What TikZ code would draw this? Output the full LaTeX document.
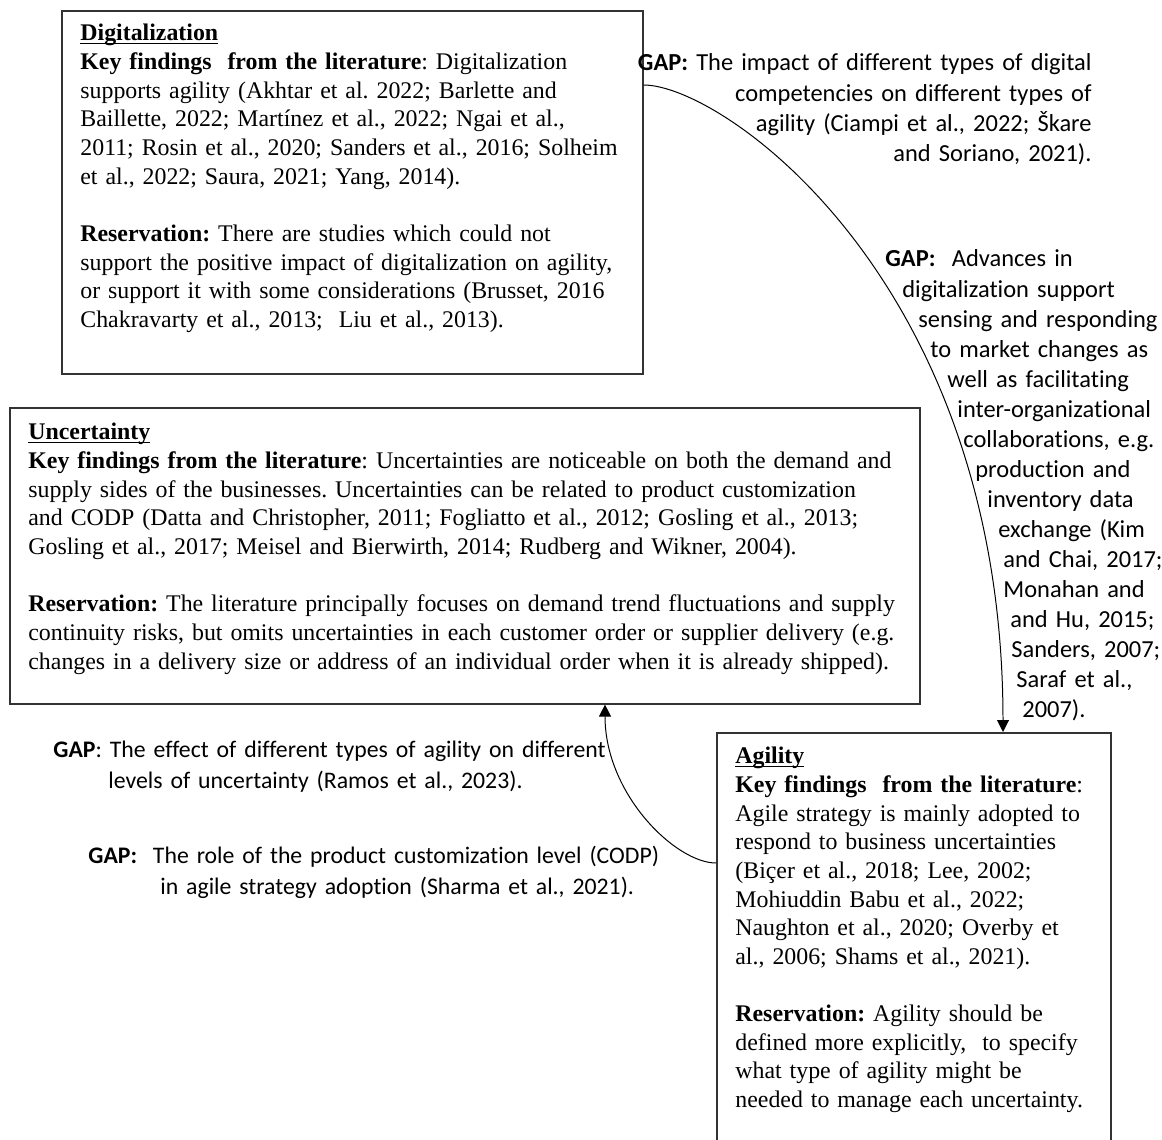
\documentclass[tikz,border=0pt]{standalone}
\usepackage{fontspec}
\setmainfont{Liberation Serif}
\newfontfamily\gapfont[Ligatures=NoCommon]{Carlito}
\usetikzlibrary{calc, arrows.meta, positioning}
\newlength\px
\setlength\px{0.503pt}
\newsavebox\headbox
\newcommand\boxhead[1]{\sbox\headbox{\textbf{#1}}\rlap{\rule[-1.6pt]{\wd\headbox}{0.6pt}}\usebox\headbox}
\frenchspacing

\begin{document}
\begin{tikzpicture}[x=0.503pt, y=-0.503pt,
	box/.style={draw=black!80, line width=0.8pt, inner sep=0pt, anchor=north west},
	boxtext/.style={inner sep=0pt, anchor=base west, align=left, font=\fontsize{12}{14.4}\selectfont},
	gaptext/.style={inner sep=0pt, font=\gapfont\fontsize{12.3}{15.1}\selectfont},
	smallgap/.style={gaptext, font=\gapfont\fontsize{11.95}{15.1}\selectfont},
	link/.style={line width=0.5pt, -{Triangle[length=6pt, width=6pt]}}]
		\useasboundingbox (0,0) rectangle (1162,1140);
		
		\node[box, minimum width=581\px, minimum height=363\px] (dig) at (61,10) {};
		\node[box, minimum width=910\px, minimum height=296\px] (unc) at (9,407) {};
		\node[box, minimum width=394\px, minimum height=430\px] (agi) at (716,732) {};
		
		\node[boxtext, text width=570\px] (dig text) at ($ (dig.north west) + (19,31) $) {%
			\boxhead{Digitalization}\\
			\textbf{Key findings\ \ from the literature}: Digitalization\\
			supports agility (Akhtar et al. 2022; Barlette and\\
			Baillette, 2022; Martínez et al., 2022; Ngai et al.,\\
			2011; Rosin et al., 2020; Sanders et al., 2016; Solheim\\
			et al., 2022; Saura, 2021; Yang, 2014).\\[14.4pt]
			\textbf{Reservation:} There are studies which could not\\
			support the positive impact of digitalization on agility,\\
			or support it with some considerations (Brusset, 2016\\
			Chakravarty et al., 2013;\ \ Liu et al., 2013).};
		
		\node[boxtext, text width=920\px] (unc text) at ($ (unc.north west) + (19,33) $) {%
			\boxhead{Uncertainty}\\
			\textbf{Key findings from the literature}: Uncertainties are noticeable on both the demand and\\
			supply sides of the businesses. Uncertainties can be related to product customization\\
			and CODP (Datta and Christopher, 2011; Fogliatto et al., 2012; Gosling et al., 2013;\\
			Gosling et al., 2017; Meisel and Bierwirth, 2014; Rudberg and Wikner, 2004).\\[14.4pt]
			\textbf{Reservation:} The literature principally focuses on demand trend fluctuations and supply\\
			continuity risks, but omits uncertainties in each customer order or supplier delivery (e.g.\\
			changes in a delivery size or address of an individual order when it is already shipped).};
		
		\node[boxtext, text width=385\px] (agi text) at ($ (agi.north west) + (19,32) $) {%
			\boxhead{Agility}\\
			\textbf{Key findings\ \ from the literature}:\\
			Agile strategy is mainly adopted to\\
			respond to business uncertainties\\
			(Biçer et al., 2018; Lee, 2002;\\
			Mohiuddin Babu et al., 2022;\\
			Naughton et al., 2020; Overby et\\
			al., 2006; Shams et al., 2021).\\[14.4pt]
			\textbf{Reservation:} Agility should be\\
			defined more explicitly,\ \ to specify\\
			what type of agility might be\\
			needed to manage each uncertainty.};
		
		\node[gaptext, anchor=base east, align=right, text width=470\px] (gap comp) at (1092,71) {%
			\textbf{GAP:} The impact of different types of digital\\
			competencies on different types of\\
			agility (Ciampi et al., 2022; Škare\\
			and Soriano, 2021).};
		
		\node[gaptext, anchor=base west, align=left, text width=285\px] (gap sense) at (885,267) {%
			\textbf{GAP:}\ \ Advances in\\
			\hspace*{17\px}digitalization support\\
			\hspace*{33\px}sensing and responding\\
			\hspace*{45\px}to market changes as\\
			\hspace*{62\px}well as facilitating\\
			\hspace*{72\px}inter-organizational\\
			\hspace*{78\px}collaborations, e.g.\\
			\hspace*{90\px}production and\\
			\hspace*{102\px}inventory data\\
			\hspace*{113\px}exchange (Kim\\
			\hspace*{118\px}and Chai, 2017;\\
			\hspace*{118\px}Monahan and\\
			\hspace*{125\px}and Hu, 2015;\\
			\hspace*{126\px}Sanders, 2007;\\
			\hspace*{131\px}Saraf et al.,\\
			\hspace*{137\px}2007).};
		
		\node[smallgap, anchor=base west, align=left, text width=620\px] (gap effect) at (53,758) {%
			\textbf{GAP}: The effect of different types of agility on different\\
			\hspace*{55\px}levels of uncertainty (Ramos et al., 2023).};
		
		\node[smallgap, anchor=base west, align=left, text width=640\px] (gap codp) at (88,864) {%
			\textbf{GAP:}\ \ The role of the product customization level (CODP)\\
			\hspace*{72\px}in agile strategy adoption (Sharma et al., 2021).};
		
		\coordinate (dig out) at ($ (dig.north east) + (0,75) $);
		\coordinate (agi in) at ($ (agi.north west) + (287,0) $);
		\coordinate (agi out) at ($ (agi.north west) + (0,131) $);
		\coordinate (unc in) at ($ (unc.south west) + (596,0) $);
		
		\draw[link] (dig out) .. controls +(80,0) and +(0,-450) .. (agi in);
		\draw[link] (agi out) .. controls +(-40,0) and +(0,90) .. (unc in);
	\end{tikzpicture}
\end{document}
